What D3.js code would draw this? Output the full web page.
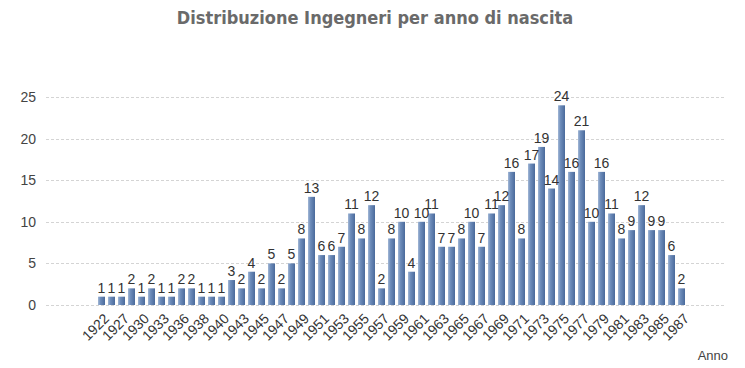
<!DOCTYPE html>
<html>
<head>
<meta charset="utf-8">
<script src="https://cdn.jsdelivr.net/npm/d3@7"></script>
<style>
  body { margin: 0; background: #fff; }
  text { font-family: Arial, "Liberation Sans", sans-serif; }
</style>
</head>
<body>
<div class="canvas"></div>
<script>
// anni presenti nei dati (ogni secondo anno viene mostrato come etichetta)
const years = [1922, 1924, 1927, 1928, 1930, 1932, 1933, 1935, 1936, 1937, 1938, 1939, 1940, 1942,
  1943, 1944, 1945, 1946, 1947, 1948, 1949, 1950, 1951, 1952, 1953, 1954, 1955, 1956, 1957, 1958,
  1959, 1960, 1961, 1962, 1963, 1964, 1965, 1966, 1967, 1968, 1969, 1970, 1971, 1972, 1973, 1974,
  1975, 1976, 1977, 1978, 1979, 1980, 1981, 1982, 1983, 1984, 1985, 1986, 1987];
const counts = [1, 1, 1, 2, 1, 2, 1, 1, 2, 2, 1, 1, 1, 3,
  2, 4, 2, 5, 2, 5, 8, 13, 6, 6, 7, 11, 8, 12, 2, 8,
  10, 4, 10, 11, 7, 7, 8, 10, 7, 11, 12, 16, 8, 17, 19, 14,
  24, 16, 21, 10, 16, 11, 8, 9, 12, 9, 9, 6, 2];
const yTicks = [0, 5, 10, 15, 20, 25];

const data = years.map((y, i) => ({ year: y, count: counts[i] }));

const svg = d3.select('.canvas')
  .append('svg')
  .attr('width', 745)
  .attr('height', 368);

// gradiente orizzontale delle barre
const grad = svg.append('defs').append('linearGradient')
  .attr('id', 'barGrad')
  .attr('x1', '0%').attr('x2', '100%').attr('y1', '0%').attr('y2', '0%');
grad.append('stop').attr('offset', '0%').attr('stop-color', '#a3b8d6');
grad.append('stop').attr('offset', '35%').attr('stop-color', '#6e8dbb');
grad.append('stop').attr('offset', '100%').attr('stop-color', '#4a6a9b');

const x = d3.scaleBand()
  .domain(years)
  .range([96.5, 686.5])
  .paddingInner(0.3)
  .paddingOuter(0.15);

const y = d3.scaleLinear()
  .domain([0, 25])
  .range([305, 97]);

// griglia tratteggiata
svg.append('g')
  .selectAll('line')
  .data(yTicks)
  .enter()
  .append('line')
  .attr('x1', 46)
  .attr('x2', 724)
  .attr('y1', d => Math.round(y(d)) + 0.5)
  .attr('y2', d => Math.round(y(d)) + 0.5)
  .attr('stroke', '#d4d4d4')
  .attr('stroke-dasharray', '3,2');

// etichette asse y
svg.append('g')
  .selectAll('text')
  .data(yTicks)
  .enter()
  .append('text')
  .attr('x', 36)
  .attr('y', d => y(d))
  .attr('dy', '0.35em')
  .attr('text-anchor', 'end')
  .attr('fill', '#444')
  .style('font-size', '14px')
  .text(d => d);

// barre
svg.append('g')
  .selectAll('rect')
  .data(data)
  .enter()
  .append('rect')
  .attr('x', d => x(d.year))
  .attr('y', d => y(d.count))
  .attr('width', x.bandwidth())
  .attr('height', d => y(0) - y(d.count))
  .attr('fill', 'url(#barGrad)');

// valori sopra le barre
svg.append('g')
  .selectAll('text')
  .data(data)
  .enter()
  .append('text')
  .attr('x', d => x(d.year) + x.bandwidth() / 2)
  .attr('y', d => y(d.count) - 4)
  .attr('text-anchor', 'middle')
  .attr('fill', '#333')
  .style('font-size', '14px')
  .text(d => d.count);

// etichette asse x (una ogni due), ruotate di 45 gradi
svg.append('g')
  .selectAll('text')
  .data(data.filter((d, i) => i % 2 === 0))
  .enter()
  .append('text')
  .attr('transform', d => `translate(${x(d.year) + x.bandwidth() / 2 + 5}, 316) rotate(-45)`)
  .attr('text-anchor', 'end')
  .attr('dy', '0.35em')
  .attr('fill', '#333')
  .style('font-size', '14px')
  .text(d => d.year);

// titolo asse
svg.append('text')
  .attr('x', 728)
  .attr('y', 360)
  .attr('text-anchor', 'end')
  .attr('fill', '#444')
  .style('font-size', '13px')
  .text('Anno');

// titolo
svg.append('text')
  .attr('x', 375)
  .attr('y', 24)
  .attr('text-anchor', 'middle')
  .attr('fill', '#6a6a6a')
  .style('font-family', '"DejaVu Sans Condensed", "DejaVu Sans", sans-serif')
  .style('font-weight', 'bold')
  .style('font-size', '18px')
  .text('Distribuzione Ingegneri per anno di nascita');
</script>
</body>
</html>
